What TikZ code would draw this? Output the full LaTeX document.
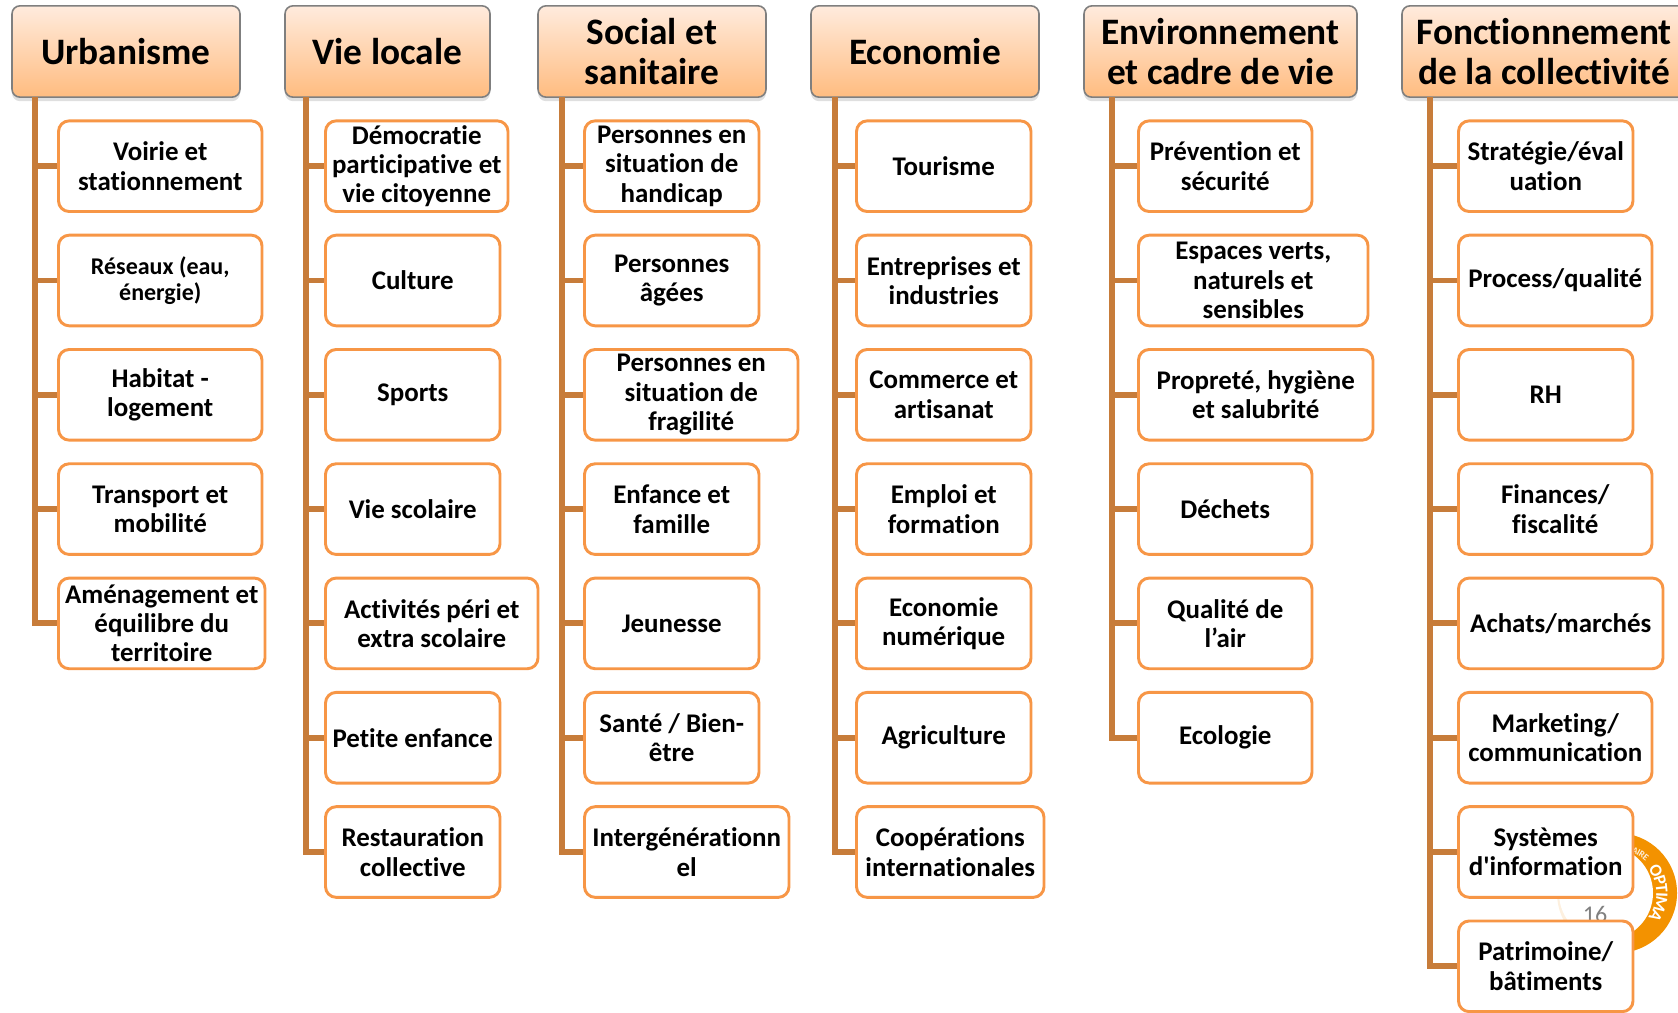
\documentclass[tikz,border=0pt]{standalone}
\usepackage{fontspec}
\setmainfont[Ligatures=TeXOff,RawFeature={-liga;-clig;-dlig}]{Carlito}
\usetikzlibrary{shadows,decorations.text}
\definecolor{trunkcol}{HTML}{C77C3A}
\definecolor{itemcol}{HTML}{F79646}
\definecolor{headtop}{HTML}{FFEBDD}
\definecolor{headbot}{HTML}{FFBC80}
\definecolor{headline}{HTML}{7F7F7F}
\definecolor{logocol}{HTML}{F39200}
\definecolor{logopale}{HTML}{FDF0DF}
\tikzset{
  headbox/.style={draw=headline,line width=1.2pt,rounded corners=6pt,top color=headtop,bottom color=headbot,
    drop shadow={shadow xshift=0pt,shadow yshift=-3pt,opacity=.25},inner sep=0pt,align=center,
    font=\bfseries\fontsize{28}{29.5}\selectfont},
  itembox/.style={draw=itemcol,line width=2.2pt,rounded corners=8pt,fill=white,inner sep=0pt,align=center,
    font=\bfseries\fontsize{20.2}{22}\selectfont},
  smalltext/.style={font=\bfseries\fontsize{18}{20}\selectfont},
  conn/.style={draw=trunkcol,line width=4.4pt},
}
% name, left, right, text
\newcommand{\hdr}[4]{\node[headbox,minimum width={(#3-#2)*.75pt},minimum height=68.5pt] (#1) at ({(#2+#3)/2},51.5) {#4};}
% name, left, right, row, text, extra
\newcommand{\itm}[6][]{\node[itembox,#1,minimum width={(#4-#3-.5)*.75pt},minimum height=68pt] (#2) at ({(#3+#4+.5)/2},{166.2+114.3*#5}) {#6};}
\begin{document}
\begin{tikzpicture}[x=.75pt,y=-.75pt]
\useasboundingbox (0,0) rectangle (1678,1013);
\clip (0,0) rectangle (1678,1013);
% logo
\begin{scope}
  \fill[logopale] (1617,893) circle (60);
  \begin{scope}
    \clip (1628,820) rectangle (1680,960);
    \fill[logocol] (1617,893) circle (60);
  \end{scope}
  \fill[white] (1606,893) circle (47);
  \fill[logopale] (1603,890) -- (1613,895) -- (1630,840) -- cycle;
  \path[decorate,decoration={text along path,text align=center,raise=-5pt,
     text={|\color{white}\bfseries\fontsize{13}{13}\selectfont|OPTIMA}}]
     (1617,893) ++(-36:46) arc (-36:36:46);
  \path[decorate,decoration={text along path,text align=center,raise=-3pt,
     text={|\color{logopale}\bfseries\fontsize{7}{8}\selectfont|CHAIRE}}]
     (1617,893) ++(-88:47) arc (-88:-44:47);
  \node[text=gray,font=\fontsize{18}{18}\selectfont,inner sep=0pt] (pagenum) at (1595,914) {16};
\end{scope}
% headers
\hdr{hA}{12}{240}{Urbanisme}
\hdr{hB}{285}{490}{Vie locale}
\hdr{hC}{538}{766}{Social et\\sanitaire}
\hdr{hD}{811}{1039}{Economie}
\hdr{hE}{1084}{1357}{Environnement\\et cadre de vie}
\hdr{hF}{1402}{1686}{Fonctionnement\\de la collectivité}
% Urbanisme
\itm{a1}{58}{262}{0}{Voirie et\\stationnement}
\itm[smalltext]{a2}{58}{262}{1}{Réseaux (eau,\\énergie)}
\itm{a3}{58}{262}{2}{Habitat -\\logement}
\itm{a4}{58}{262}{3}{Transport et\\mobilité}
\itm{a5}{58}{265}{4}{Aménagement et\\équilibre du\\territoire}
% Vie locale
\itm{b1}{325}{508}{0}{Démocratie\\participative et\\vie citoyenne}
\itm{b2}{325}{500}{1}{Culture}
\itm{b3}{325}{500}{2}{Sports}
\itm{b4}{325}{500}{3}{Vie scolaire}
\itm{b5}{325}{538}{4}{Activités péri et\\extra scolaire}
\itm{b6}{325}{500}{5}{Petite enfance}
\itm{b7}{325}{500}{6}{Restauration\\collective}
% Social
\itm{c1}{584}{759}{0}{Personnes en\\situation de\\handicap}
\itm{c2}{584}{759}{1}{Personnes\\âgées}
\itm{c3}{584}{798}{2}{Personnes en\\situation de\\fragilité}
\itm{c4}{584}{759}{3}{Enfance et\\famille}
\itm{c5}{584}{759}{4}{Jeunesse}
\itm{c6}{584}{759}{5}{Santé / Bien-\\être}
\itm{c7}{584}{789}{6}{Intergénérationn\\el}
% Economie
\itm{d1}{856}{1031}{0}{Tourisme}
\itm{d2}{856}{1031}{1}{Entreprises et\\industries}
\itm{d3}{856}{1031}{2}{Commerce et\\artisanat}
\itm{d4}{856}{1031}{3}{Emploi et\\formation}
\itm{d5}{856}{1031}{4}{Economie\\numérique}
\itm{d6}{856}{1031}{5}{Agriculture}
\itm{d7}{856}{1044}{6}{Coopérations\\internationales}
% Environnement
\itm{e1}{1138}{1312}{0}{Prévention et\\sécurité}
\itm{e2}{1138}{1368}{1}{Espaces verts,\\naturels et\\sensibles}
\itm{e3}{1138}{1373}{2}{Propreté, hygiène\\et salubrité}
\itm{e4}{1138}{1312}{3}{Déchets}
\itm{e5}{1138}{1312}{4}{Qualité de\\l’air}
\itm{e6}{1138}{1312}{5}{Ecologie}
% Fonctionnement
\itm{f1}{1458}{1633}{0}{Stratégie/éval\\uation}
\itm{f2}{1458}{1652}{1}{Process/qualité}
\itm{f3}{1458}{1633}{2}{RH}
\itm{f4}{1458}{1652}{3}{Finances/\\fiscalité}
\itm{f5}{1458}{1663}{4}{Achats/marchés}
\itm{f6}{1458}{1652}{5}{Marketing/\\communication}
\itm{f7}{1458}{1633}{6}{Systèmes\\d'information}
\itm{f8}{1458}{1633}{7}{Patrimoine/\\bâtiments}
% connectors
\coordinate (tA) at (35,97);
\coordinate (tB) at (306,97);
\coordinate (tC) at (562,97);
\coordinate (tD) at (835,97);
\coordinate (tE) at (1112,97);
\coordinate (tF) at (1430,97);
\foreach \t/\p/\n in {tA/a/5,tB/b/7,tC/c/7,tD/d/7,tE/e/6,tF/f/8}{
  \draw[conn,line join=miter] (\t) |- (\p\n.west);
  \foreach \k in {1,...,\n}{\draw[conn] (\t |- \p\k.west) -- (\p\k.west);}
}
\end{tikzpicture}
\end{document}
